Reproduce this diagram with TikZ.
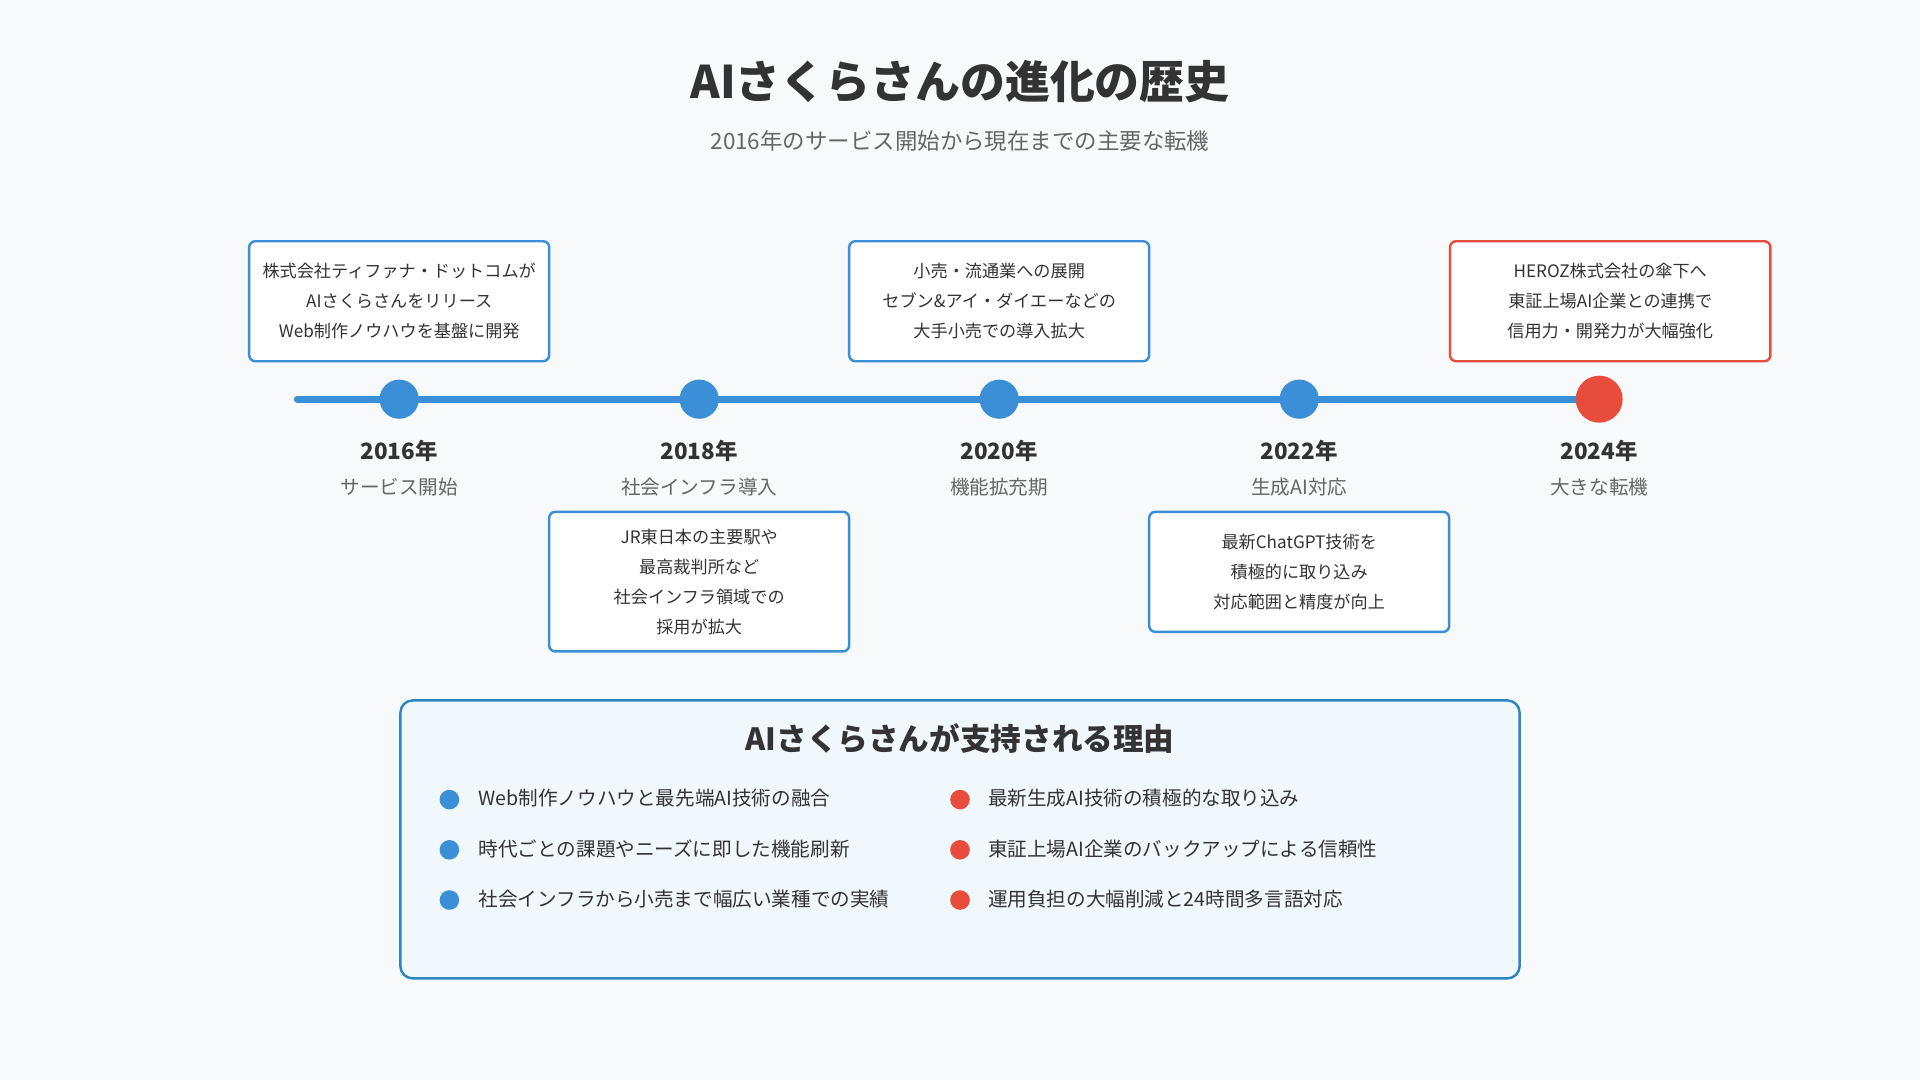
\documentclass[tikz,border=0pt]{standalone}
\usepackage{fontspec}
\setmainfont{Noto Sans CJK JP}
\definecolor{bg}{HTML}{F8F9FB}
\definecolor{blu}{HTML}{3A8FD6}
\definecolor{rd}{HTML}{E74C3C}
\definecolor{dk}{HTML}{333333}
\definecolor{gr}{HTML}{666666}
\definecolor{pan}{HTML}{F0F7FD}
\definecolor{panb}{HTML}{2E86C1}
\tikzset{
 box/.style={draw=blu,line width=1.2pt,rounded corners=3pt,fill=white,minimum width=147pt,align=center,font=\fontsize{8.4}{14.7}\selectfont,text=dk,anchor=north},
 dot/.style={circle,fill=blu,minimum size=19.2pt,inner sep=0pt},
 yr/.style={font=\bfseries\fontsize{11}{13}\selectfont,text=dk},
 lb/.style={font=\fontsize{9.6}{12}\selectfont,text=gr},
 item/.style={anchor=west,font=\fontsize{9.6}{12}\selectfont,text=dk},
 bl/.style={circle,fill=blu,minimum size=9.6pt,inner sep=0pt},
 br/.style={circle,fill=rd,minimum size=9.6pt,inner sep=0pt},
}
\begin{document}
\begin{tikzpicture}[x=0.6pt,y=-0.6pt]
\fill[bg] (0,0) rectangle (1568,882);
\useasboundingbox (0,0) rectangle (1568,882);
\node[font=\bfseries\fontsize{22}{26}\selectfont,text=dk] (t) at (784,67) {AIさくらさんの進化の歴史};
\node[font=\fontsize{11}{13}\selectfont,text=gr] (st) at (784,115) {2016年のサービス開始から現在までの主要な転機};
\coordinate (ls) at (243,326); \coordinate (le) at (1300,326);
\draw[blu,line width=3.6pt,line cap=round] (ls) -- (le);
\foreach \x/\n in {326/a,571/b,816/c,1061/d} \node[dot] (\n) at (\x,326) {};
\node[circle,fill=rd,minimum size=23pt,inner sep=0pt] (e) at (1306,326) {};
\foreach \n/\y/\l in {a/2016/サービス開始,b/2018/社会インフラ導入,c/2020/機能拡充期,d/2022/生成AI対応,e/2024/大きな転機}{
 \node[yr] (y\n) at ([yshift=-25.2pt]\n |- 0,326) {\y 年};
 \node[lb] (l\n) at ([yshift=-43.2pt]\n |- 0,326) {\l};
}
\node[box,minimum height=58.8pt] (ba) at (326,196) {株式会社ティファナ・ドットコムが\\AIさくらさんをリリース\\Web制作ノウハウを基盤に開発};
\node[box,minimum height=58.8pt] (bc) at (816,196) {小売・流通業への展開\\セブン\&アイ・ダイエーなどの\\大手小売での導入拡大};
\node[box,draw=rd,minimum width=157pt,minimum height=58.8pt] (be) at (1315,196) {HEROZ株式会社の傘下へ\\東証上場AI企業との連携で\\信用力・開発力が大幅強化};
\node[box,minimum height=68.4pt] (bb) at (571,417) {JR東日本の主要駅や\\最高裁判所など\\社会インフラ領域での\\採用が拡大};
\node[box,minimum height=58.8pt] (bd) at (1061,417) {最新ChatGPT技術を\\積極的に取り込み\\対応範囲と精度が向上};
\draw[panb,line width=1.2pt,rounded corners=6pt,fill=pan] (327,572) rectangle (1241,799);
\node[font=\bfseries\fontsize{15}{18}\selectfont,text=dk] (pt) at (784,603) {AIさくらさんが支持される理由};
\foreach \y/\a/\b in {652/Web制作ノウハウと最先端AI技術の融合/最新生成AI技術の積極的な取り込み,693/時代ごとの課題やニーズに即した機能刷新/東証上場AI企業のバックアップによる信頼性,734/社会インフラから小売まで幅広い業種での実績/運用負担の大幅削減と24時間多言語対応}{
 \node[bl] at (367,\y+1) {}; \node[item] at (385,\y) {\a};
 \node[br] at (784,\y+1) {}; \node[item] at (801,\y) {\b};
}
\end{tikzpicture}
\end{document}
